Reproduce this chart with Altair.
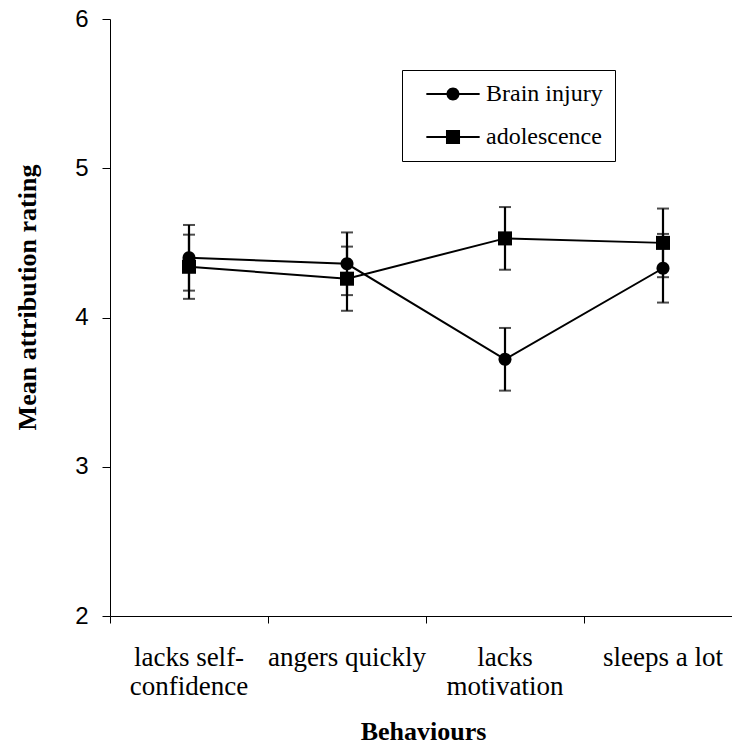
import altair as alt
import pandas as pd

# ---- data ----
behaviours = ["lacks self-confidence", "angers quickly", "lacks motivation", "sleeps a lot"]
label_lines = [["lacks self-", "confidence"], ["angers quickly"], ["lacks", "motivation"], ["sleeps a lot"]]
series_names = ["Brain injury", "adolescence"]
brain_mean = [4.40, 4.36, 3.72, 4.33]
brain_err = [0.22, 0.21, 0.21, 0.23]
adol_mean = [4.34, 4.26, 4.53, 4.50]
adol_err = [0.215, 0.215, 0.21, 0.23]
y_ticks = [2, 3, 4, 5, 6]

rows = []
for name, means, errs in [(series_names[0], brain_mean, brain_err),
                          (series_names[1], adol_mean, adol_err)]:
    for b, m, e in zip(behaviours, means, errs):
        rows.append({"behaviour": b, "series": name, "mean": m,
                     "lo": m - e, "hi": m + e})
df = pd.DataFrame(rows)

parts = []
for b, lines in zip(behaviours, label_lines):
    arr = "[" + ",".join("'" + l + "'" for l in lines) + "]"
    parts.append(f"datum.value == '{b}' ? {arr} : ")
label_expr = "".join(parts) + "datum.value"

circle_path = "M1,0A1,1,0,1,1,-1,0A1,1,0,1,1,1,0Z"
square_path = "M-1.08,-1.08H1.08V1.08H-1.08Z"
bar_path = "M-4.1,-0.16H4.1V0.16H-4.1Z"
legend_circle = bar_path + circle_path
legend_square = bar_path + square_path

serif = "Liberation Serif"
sans = "Liberation Sans"

x_enc = alt.X(
    "behaviour:N",
    sort=behaviours,
    scale=alt.Scale(domain=behaviours, range=[0, 632], paddingInner=0, paddingOuter=0),
    axis=alt.Axis(
        title="Behaviours",
        bandPosition=0,
        labelExpr=label_expr,
        labelFont=serif,
        labelFontSize=27,
        labelLineHeight=29,
        labelColor="black",
        labelPadding=21,
        labelAngle=0,
        tickSize=7,
        tickColor="black",
        domainColor="black",
        titleFont=serif,
        titleFontSize=26,
        titleFontWeight="bold",
        titleColor="black",
        titleX=313,
        titleY=123,
        titleBaseline="alphabetic",
        titleAlign="center",
        grid=False,
    ),
)

y_scale = alt.Scale(domain=[2, 6], nice=False, zero=False)
y_axis = alt.Axis(
    title="Mean attribution rating",
    values=y_ticks,
    format="d",
    labelFont=sans,
    labelFontSize=24,
    labelColor="black",
    labelPadding=14,
    tickSize=8,
    tickColor="black",
    domainColor="black",
    titleFont=serif,
    titleFontSize=26,
    titleFontWeight="bold",
    titleColor="black",
    titleAngle=270,
    titleX=-83,
    titleY=278,
    titleBaseline="middle",
    titleAlign="center",
    grid=False,
)

base = alt.Chart(df)

lines = base.mark_line(color="black", strokeWidth=2).encode(
    x=x_enc,
    y=alt.Y("mean:Q", scale=y_scale, axis=y_axis),
    detail="series:N",
)

bars = base.mark_rule(color="black", strokeWidth=2.2).encode(
    x=x_enc,
    y=alt.Y("lo:Q", scale=y_scale),
    y2="hi:Q",
)

caps_lo = base.mark_tick(color="black", thickness=2, size=12).encode(
    x=x_enc, y=alt.Y("lo:Q", scale=y_scale)
)
caps_hi = base.mark_tick(color="black", thickness=2, size=12).encode(
    x=x_enc, y=alt.Y("hi:Q", scale=y_scale)
)

points = base.mark_point(filled=True, color="black", opacity=1, size=169).encode(
    x=x_enc,
    y=alt.Y("mean:Q", scale=y_scale),
    shape=alt.Shape("series:N",
                    scale=alt.Scale(domain=series_names, range=[circle_path, square_path]),
                    legend=None),
)

legend_layer = base.mark_point(filled=True, color="black", size=169).encode(
    x=x_enc,
    y=alt.Y("mean:Q", scale=y_scale),
    shape=alt.Shape(
        "series:N",
        scale=alt.Scale(domain=series_names, range=[legend_circle, legend_square]),
        legend=alt.Legend(
            title=None,
            orient="none",
            legendX=292,
            legendY=51,
            padding=12,
            rowPadding=19,
            symbolOffset=27,
            labelOffset=21,
            symbolSize=169,
            symbolFillColor="black",
            symbolOpacity=1,
            labelFont=serif,
            labelFontSize=24,
            labelColor="black",
            strokeColor="black",
            fillColor="white",
            cornerRadius=0,
        ),
    ),
).transform_filter("false")

chart = alt.layer(lines, bars, caps_lo, caps_hi, points, legend_layer).resolve_scale(
    shape="independent"
).properties(
    width=622,
    height=597,
    autosize=alt.AutoSizeParams(type="none"),
    padding={"left": 110, "top": 19, "right": 0, "bottom": 130},
    background="white",
).configure_view(stroke=None)

chart.save("out.html", embed_options={"renderer": "svg", "actions": False})
